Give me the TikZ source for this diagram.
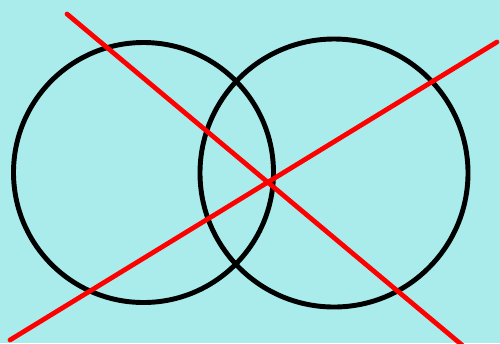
\documentclass[tikz,border=0pt]{standalone}
\usepackage{tikz}
\definecolor{bgcyan}{RGB}{170,236,236}
\definecolor{lineRed}{RGB}{255,0,0}
\tikzset{
  ring/.style={draw=black,line width=2.8pt},
  cutline/.style={draw=lineRed,line width=2.7pt,line cap=round},
}

\begin{document}
\begin{tikzpicture}[x=0.02cm,y=-0.02cm]
  % background
  \fill[bgcyan] (0,0) rectangle (500,343);
  \useasboundingbox (0,0) rectangle (500,343);
  % circles
  \draw[ring] (143.5,172.5) circle[radius=130];
  \draw[ring] (334,173) circle[radius=134];
  % red lines
  \coordinate (lA) at (67,14);
  \coordinate (lB) at (462,345);
  \coordinate (rA) at (10,340);
  \coordinate (rB) at (497,42);
  \draw[cutline] (lA) -- (lB);
  \draw[cutline] (rA) -- (rB);
\end{tikzpicture}
\end{document}
